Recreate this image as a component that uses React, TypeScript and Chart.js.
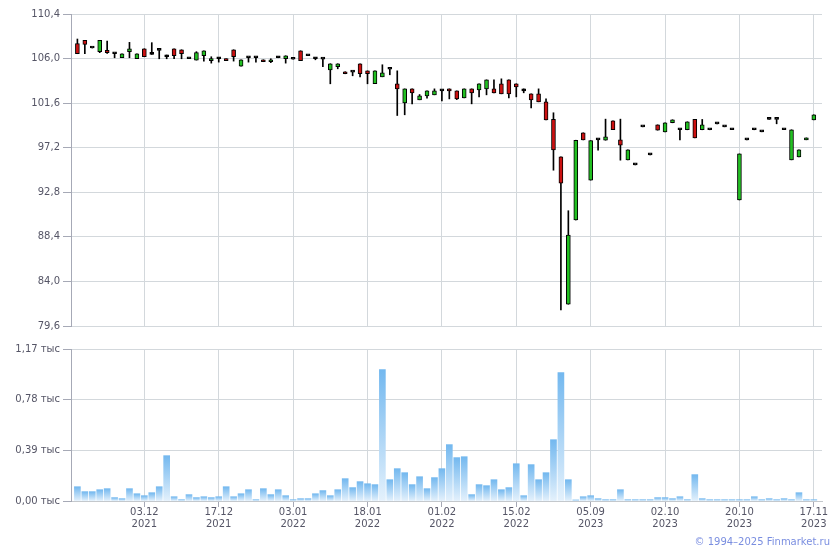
import React, { useEffect, useRef } from 'react';
import { Chart, registerables } from 'chart.js';

Chart.register(...registerables);

const FONT = "'DejaVu Sans', Verdana, sans-serif";
const TEXT = '#555566';
const GRID = '#d3d8dc';
const AXIS = '#a6a9b6';
const GREEN = '#22c022';
const RED = '#cc1111';

const opens = [107.47, 107.8, 107.04, 106.68, 106.81, 106.48, 106.08, 106.68, 105.98, 106.97,
  106.41, 106.81, 106.18, 106.97, 106.87, 105.98, 105.85, 106.28, 105.79, 105.98,
  105.98, 106.87, 105.26, 106.08, 106.08, 105.88, 105.69, 106.08, 105.98, 105.93,
  106.77, 106.28, 105.98, 105.95, 104.89, 105.19, 104.7, 104.66, 105.49, 104.79,
  103.51, 104.2, 104.95, 103.51, 101.62, 103.01, 101.93, 102.32, 102.42, 102.81,
  103.01, 102.81, 102.12, 103.01, 102.91, 103.01, 103.01, 103.51, 103.9, 103.51,
  102.81, 102.52, 102.52, 101.74, 99.99, 96.3, 81.75, 90.06, 98.67, 94.0,
  97.98, 97.94, 99.86, 97.98, 96.0, 95.5, 99.26, 96.49, 99.46, 98.77,
  99.66, 98.97, 98.97, 99.99, 98.97, 98.97, 99.56, 99.26, 98.97, 92.04,
  97.98, 98.97, 98.77, 99.99, 99.99, 98.97, 96.0, 96.3, 97.98, 99.95];

const closes = [106.48, 107.4, 107.04, 107.8, 106.58, 106.48, 106.48, 106.97, 106.48, 106.18,
  106.41, 106.81, 106.18, 106.28, 106.48, 105.98, 106.58, 106.77, 105.98, 105.98,
  105.79, 106.18, 105.88, 106.08, 106.08, 105.69, 105.88, 106.08, 106.28, 105.93,
  105.79, 106.28, 105.98, 105.95, 105.49, 105.49, 104.5, 104.66, 104.5, 104.5,
  104.79, 104.6, 104.95, 103.01, 103.01, 102.62, 102.32, 102.81, 102.81, 102.81,
  102.81, 102.02, 103.01, 102.62, 103.51, 103.9, 102.62, 102.52, 102.52, 103.21,
  102.81, 101.93, 101.73, 99.95, 96.99, 93.7, 88.58, 97.94, 97.97, 97.9,
  97.98, 98.27, 98.97, 97.45, 96.99, 95.5, 99.26, 96.49, 98.93, 99.66,
  99.96, 98.97, 99.76, 98.17, 99.46, 98.97, 99.56, 99.26, 98.97, 96.59,
  97.98, 98.97, 98.77, 99.99, 99.99, 98.97, 98.97, 96.99, 98.17, 100.45];

const highs = [107.93, 107.8, 107.04, 107.8, 107.73, 106.48, 106.48, 107.6, 106.48, 106.97,
  107.57, 106.81, 106.35, 106.97, 106.87, 105.98, 106.68, 106.77, 106.18, 106.08,
  105.98, 106.87, 105.88, 106.08, 106.08, 105.88, 105.98, 106.18, 106.28, 105.93,
  106.77, 106.28, 106.08, 105.95, 105.49, 105.49, 104.7, 104.66, 105.49, 104.79,
  104.79, 105.39, 104.95, 104.79, 103.01, 103.01, 102.45, 102.81, 103.01, 102.81,
  103.01, 102.81, 103.01, 103.01, 103.51, 103.9, 103.9, 104.0, 103.9, 103.51,
  103.01, 102.52, 103.01, 102.03, 100.65, 96.3, 90.98, 97.94, 98.67, 97.9,
  97.98, 100.02, 99.86, 100.02, 96.99, 95.5, 99.26, 96.49, 99.46, 99.66,
  99.96, 98.97, 99.76, 99.99, 99.99, 98.97, 99.56, 99.26, 98.97, 96.59,
  97.98, 98.97, 98.77, 99.99, 99.99, 98.97, 98.97, 96.99, 98.17, 100.45];

const lows = [106.48, 106.48, 107.04, 106.58, 106.5, 106.08, 106.08, 106.08, 105.98, 106.18,
  106.41, 105.98, 105.98, 105.98, 105.98, 105.98, 105.85, 105.75, 105.55, 105.65,
  105.79, 105.75, 105.26, 105.65, 105.65, 105.69, 105.6, 106.08, 105.55, 105.93,
  105.79, 106.28, 105.88, 105.19, 103.51, 104.99, 104.5, 104.3, 104.2, 103.51,
  103.51, 104.2, 104.4, 100.38, 100.45, 101.53, 101.93, 102.09, 102.42, 101.83,
  102.02, 101.95, 102.12, 101.53, 102.22, 102.42, 102.62, 102.52, 102.12, 102.22,
  102.62, 101.13, 101.73, 99.95, 94.98, 81.19, 81.75, 90.06, 97.97, 94.0,
  96.95, 97.94, 98.97, 95.97, 96.0, 95.5, 99.26, 96.49, 98.93, 98.77,
  99.66, 97.98, 98.97, 98.17, 98.97, 98.97, 99.56, 99.26, 98.97, 92.04,
  97.98, 98.97, 98.77, 99.99, 99.56, 98.97, 96.0, 96.3, 97.98, 99.95];

// volume, thousands
const volumes = [0.110, 0.072, 0.072, 0.087, 0.095, 0.026, 0.018, 0.095, 0.056, 0.041,
  0.064, 0.110, 0.349, 0.033, 0.010, 0.049, 0.026, 0.033, 0.026, 0.033,
  0.110, 0.033, 0.056, 0.087, 0.010, 0.095, 0.049, 0.087, 0.041, 0.010,
  0.018, 0.018, 0.056, 0.080, 0.041, 0.087, 0.172, 0.103, 0.149, 0.133,
  0.126, 1.011, 0.164, 0.249, 0.218, 0.126, 0.187, 0.095, 0.180, 0.249,
  0.434, 0.334, 0.341, 0.049, 0.126, 0.118, 0.164, 0.087, 0.103, 0.287,
  0.041, 0.280, 0.164, 0.218, 0.472, 0.988, 0.164, 0.008, 0.033, 0.041,
  0.018, 0.010, 0.010, 0.087, 0.010, 0.010, 0.010, 0.010, 0.026, 0.026,
  0.018, 0.033, 0.010, 0.203, 0.018, 0.010, 0.010, 0.010, 0.010, 0.010,
  0.010, 0.033, 0.010, 0.018, 0.010, 0.018, 0.010, 0.064, 0.010, 0.010];

const xTickIndex = [9, 19, 29, 39, 49, 59, 69, 79, 89, 99];
const xTickDates = ['03.12', '17.12', '03.01', '18.01', '01.02', '15.02', '05.09', '02.10', '20.10', '17.11'];
const xTickYears = ['2021', '2021', '2022', '2022', '2022', '2022', '2023', '2023', '2023', '2023'];

const priceTicks = [79.6, 84.0, 88.4, 92.8, 97.2, 101.6, 106.0, 110.4];
const volumeTicks = [0, 0.39, 0.78, 1.17];

const X_MIN = -0.86;
const X_MAX = 100.1;

const fmt = (v: number, d: number) => v.toFixed(d).replace('.', ',');

export default function App() {
  const priceRef = useRef<HTMLCanvasElement>(null);
  const volRef = useRef<HTMLCanvasElement>(null);

  useEffect(() => {
    const idx = opens.map((_, i) => i);
    const bodyData = idx.map((i) => ({ x: i, y: [Math.min(opens[i], closes[i]), Math.max(opens[i], closes[i])] }));
    const wickData = idx.map((i) => ({ x: i, y: [lows[i], highs[i]] }));
    const bodyColors = idx.map((i) => (closes[i] > opens[i] ? GREEN : closes[i] < opens[i] ? RED : '#000000'));

    const xScaleBase = (withLabels: boolean): any => ({
      type: 'linear',
      min: X_MIN,
      max: X_MAX,
      offset: false,
      afterBuildTicks: (s: any) => {
        s.ticks = xTickIndex.map((v) => ({ value: v }));
      },
      grid: {
        offset: false,
        color: GRID,
        drawTicks: withLabels,
        tickLength: withLabels ? 6 : 0,
        tickColor: AXIS,
      },
      border: { display: withLabels, color: '#c4c8cc' },
      ticks: {
        display: withLabels,
        autoSkip: false,
        maxRotation: 0,
        padding: 0,
        color: TEXT,
        font: { family: FONT, size: 10, lineHeight: 1.15 },
        callback: (v: number) => {
          const k = xTickIndex.indexOf(Math.round(v));
          return k >= 0 ? [xTickDates[k], xTickYears[k]] : '';
        },
      },
    });

    const price = new Chart(priceRef.current!, {
      type: 'bar',
      data: {
        datasets: [
          {
            data: bodyData as any,
            backgroundColor: bodyColors,
            borderColor: '#000000',
            borderWidth: 1,
            borderSkipped: false,
            barThickness: 4,
            minBarLength: 2,
            grouped: false,
          } as any,
          {
            data: wickData as any,
            backgroundColor: '#000000',
            borderWidth: 0,
            barThickness: 1,
            grouped: false,
          } as any,
        ],
      },
      options: {
        animation: false,
        responsive: false,
        devicePixelRatio: 1,
        layout: { padding: { top: 14, right: 18, left: 0, bottom: 0 } },
        plugins: { legend: { display: false }, tooltip: { enabled: false } },
        scales: {
          x: { ...xScaleBase(false), afterFit: (s: any) => { s.height = 14; } },
          y: {
            type: 'linear',
            min: 79.6,
            max: 110.4,
            afterBuildTicks: (s: any) => {
              s.ticks = priceTicks.map((v) => ({ value: v }));
            },
            afterFit: (s: any) => { s.width = 71; },
            grid: { color: GRID, tickLength: 8, tickColor: AXIS },
            border: { color: AXIS },
            ticks: {
              padding: 3,
              color: TEXT,
              font: { family: FONT, size: 10 },
              callback: (v: number) => fmt(v, 1),
            },
          },
        },
      } as any,
    });

    const volume = new Chart(volRef.current!, {
      type: 'bar',
      data: {
        datasets: [
          {
            data: idx.map((i) => ({ x: i, y: volumes[i] })) as any,
            backgroundColor: (c: any) => {
              const chart = c.chart;
              if (!chart.chartArea || c.type !== 'data' || !c.parsed) return '#a8d2f4';
              const ys = chart.scales.y;
              const top = ys.getPixelForValue(c.parsed.y);
              const bot = ys.getPixelForValue(0);
              if (!isFinite(top) || !isFinite(bot) || bot - top < 1) return '#a8d2f4';
              const g = chart.ctx.createLinearGradient(0, top, 0, bot);
              g.addColorStop(0, '#73b8ef');
              g.addColorStop(1, '#e4f1fc');
              return g;
            },
            borderWidth: 0,
            barThickness: 6,
            grouped: false,
          } as any,
        ],
      },
      options: {
        animation: false,
        responsive: false,
        devicePixelRatio: 1,
        layout: { padding: { top: 9, right: 18, left: 0, bottom: 0 } },
        plugins: { legend: { display: false }, tooltip: { enabled: false } },
        scales: {
          x: { ...xScaleBase(true), afterFit: (s: any) => { s.height = 49; } },
          y: {
            type: 'linear',
            min: 0,
            max: 1.17,
            afterBuildTicks: (s: any) => {
              s.ticks = volumeTicks.map((v) => ({ value: v }));
            },
            afterFit: (s: any) => { s.width = 71; },
            grid: { color: GRID, tickLength: 8, tickColor: AXIS },
            border: { color: AXIS },
            ticks: {
              padding: 3,
              color: TEXT,
              font: { family: FONT, size: 10 },
              callback: (v: number) => fmt(v, 2) + ' тыс',
            },
          },
        },
      } as any,
    });

    return () => {
      price.destroy();
      volume.destroy();
    };
  }, []);

  return (
    <div style={{ position: 'fixed', left: 0, top: 0, width: 840, height: 550, background: '#ffffff', overflow: 'hidden' }}>
      <div style={{ position: 'absolute', left: 0, top: 0, width: 840, height: 340 }}>
        <canvas ref={priceRef} width={840} height={340} style={{ display: 'block' }} />
      </div>
      <div style={{ position: 'absolute', left: 0, top: 340, width: 840, height: 210 }}>
        <canvas ref={volRef} width={840} height={210} style={{ display: 'block' }} />
      </div>
      <div
        style={{
          position: 'absolute',
          right: 10,
          top: 535,
          font: `10px ${FONT}`,
          lineHeight: '14px',
          color: '#7a8ee0',
          whiteSpace: 'nowrap',
        }}
      >
        © 1994–2025 Finmarket.ru
      </div>
    </div>
  );
}
